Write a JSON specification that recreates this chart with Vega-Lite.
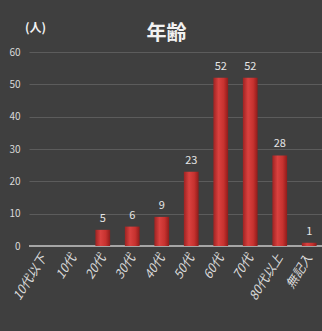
{
  "$schema": "https://vega.github.io/schema/vega-lite/v6.json",
  "width": 295,
  "height": 194,
  "autosize": {"type": "none"},
  "padding": {"left": 29, "top": 52, "right": 0, "bottom": 85},
  "background": "#3f3f3f",
  "config": {"view": {"stroke": null}, "font": "Noto Sans CJK JP"},
  "title": {"text": "年齢", "fontSize": 20, "fontWeight": "bold", "color": "#f2f2f2", "anchor": "middle", "dx": -10, "offset": -23, "font": "Noto Sans CJK JP"},
  "data": {"values": [
    {"age": "10代以下", "count": 0, "label": ""},
    {"age": "10代", "count": 0, "label": ""},
    {"age": "20代", "count": 5, "label": "5"},
    {"age": "30代", "count": 6, "label": "6"},
    {"age": "40代", "count": 9, "label": "9"},
    {"age": "50代", "count": 23, "label": "23"},
    {"age": "60代", "count": 52, "label": "52"},
    {"age": "70代", "count": 52, "label": "52"},
    {"age": "80代以上", "count": 28, "label": "28"},
    {"age": "無記入", "count": 1, "label": "1"}
  ]},
  "encoding": {
    "x": {"field": "age", "type": "nominal", "sort": null,
      "scale": {"paddingInner": 0.5, "paddingOuter": 0.25},
      "axis": {"title": null, "labelAngle": -58, "labelAlign": "right", "labelBaseline": "middle", "labelColor": "#d9d9d9", "labelFontSize": 12.5, "labelFontStyle": "italic", "labelPadding": 9, "ticks": false, "domain": false, "grid": false}},
    "y": {"field": "count", "type": "quantitative",
      "scale": {"domain": [0, 60]},
      "axis": {"title": "(人)", "titleAngle": 0, "titleX": 6, "titleY": -25, "titleAlign": "center", "titleBaseline": "middle", "titleFontSize": 12, "titleFontWeight": "bold", "titleColor": "#f2f2f2",
        "values": [0, 10, 20, 30, 40, 50, 60], "labelColor": "#d9d9d9", "labelFontSize": 10, "labelPadding": 9, "ticks": false, "domain": false, "gridColor": "#5c5c5c", "gridWidth": 1}}
  },
  "layer": [
    {"mark": {"type": "rule", "color": "#a6a6a6", "strokeWidth": 1.5}, "encoding": {"y": {"datum": 0}, "x": null}},
    {"mark": {"type": "bar", "color": {"gradient": "linear", "x1": 0, "x2": 1, "y1": 0, "y2": 0, "stops": [{"offset": 0, "color": "#9e2322"}, {"offset": 0.35, "color": "#d9413f"}, {"offset": 0.7, "color": "#c7322f"}, {"offset": 1, "color": "#8e1c1b"}]}}},
    {"mark": {"type": "text", "baseline": "bottom", "dy": -6, "fontSize": 11, "color": "#e6e6e6"}, "encoding": {"text": {"field": "label"}}}
  ]
}
